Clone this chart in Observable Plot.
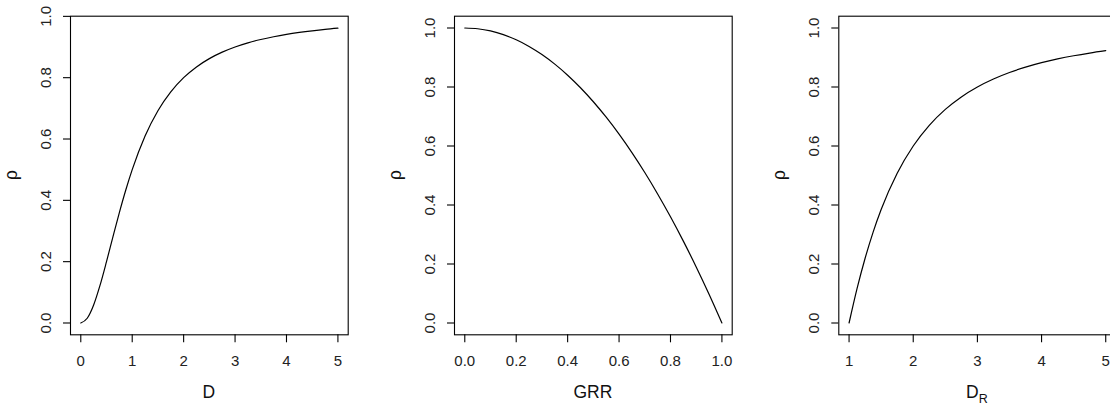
<!DOCTYPE html>
<html>
<head>
<meta charset="utf-8">
<script src="https://cdn.jsdelivr.net/npm/d3@7"></script>
<script src="https://cdn.jsdelivr.net/npm/@observablehq/plot@0.6"></script>
<style>
  html, body { margin: 0; padding: 0; background: #fff; }
  #wrap { position: relative; width: 1110px; height: 408px; overflow: hidden; font-family: "Liberation Sans", Arial, Helvetica, sans-serif; }
  .panel { position: absolute; top: 0; }
  .xlab { position: absolute; font-size: 17.5px; color: #111; transform: translate(-50%, -50%); white-space: nowrap; line-height: 1; }
  .ylab { position: absolute; font-size: 17.5px; color: #111; transform: translate(-50%, -50%) rotate(-90deg); white-space: nowrap; line-height: 1; }
  sub { font-size: 12.5px; vertical-align: -5px; line-height: 0; }
</style>
</head>
<body>
<div id="wrap"></div>
<script>
// Panel 1: rho vs D
const D = [0, 0.125, 0.25, 0.375, 0.5, 0.625, 0.75, 0.875, 1, 1.25, 1.5, 1.75, 2, 2.25, 2.5, 2.75, 3, 3.25, 3.5, 3.75, 4, 4.25, 4.5, 4.75, 5];
const rhoD = [0, 0.0154, 0.0588, 0.1233, 0.2, 0.2809, 0.36, 0.4336, 0.5, 0.6098, 0.6923, 0.7538, 0.8, 0.8351, 0.8621, 0.8832, 0.9, 0.9135, 0.9245, 0.9336, 0.9412, 0.9475, 0.9529, 0.9576, 0.9615];
// Panel 2: rho vs GRR
const GRR = [0, 0.05, 0.1, 0.15, 0.2, 0.25, 0.3, 0.35, 0.4, 0.45, 0.5, 0.55, 0.6, 0.65, 0.7, 0.75, 0.8, 0.85, 0.9, 0.95, 1];
const rhoGRR = [1, 0.9975, 0.99, 0.9775, 0.96, 0.9375, 0.91, 0.8775, 0.84, 0.7975, 0.75, 0.6975, 0.64, 0.5775, 0.51, 0.4375, 0.36, 0.2775, 0.19, 0.0975, 0];
// Panel 3: rho vs D_R
const DR = [1, 1.125, 1.25, 1.375, 1.5, 1.75, 2, 2.25, 2.5, 2.75, 3, 3.25, 3.5, 3.75, 4, 4.25, 4.5, 4.75, 5];
const rhoDR = [0, 0.1172, 0.2195, 0.3081, 0.3846, 0.5077, 0.6, 0.6701, 0.7241, 0.7664, 0.8, 0.8270, 0.8491, 0.8672, 0.8824, 0.8951, 0.9059, 0.9151, 0.9231];

// Tick labels
const xTicks1 = [0, 1, 2, 3, 4, 5];
const xTicks2 = [0, 0.2, 0.4, 0.6, 0.8, 1.0];
const xTicks3 = [1, 2, 3, 4, 5];
const yTicks = [0, 0.2, 0.4, 0.6, 0.8, 1.0];

const wrap = document.getElementById("wrap");
const font = "Liberation Sans, Arial, Helvetica, sans-serif";

function panel({left, width, mLeft, mRight, xs, ys, xDomain, yDomain, xTicks, xFmt, xLabelHTML}) {
  const data = xs.map((x, i) => ({x, y: ys[i]}));
  const mTop = 15.7, mBottom = 408 - 334.3;
  const p = Plot.plot({
    width, height: 408,
    marginLeft: mLeft, marginRight: mRight, marginTop: mTop, marginBottom: mBottom,
    style: {fontFamily: font, fontSize: "15px", color: "#000", background: "transparent", overflow: "visible"},
    x: {domain: xDomain},
    y: {domain: yDomain},
    marks: [
      Plot.frame({stroke: "#000", strokeWidth: 1.1}),
      Plot.line(data, {x: "x", y: "y", curve: "monotone-x", stroke: "#000", strokeWidth: 1.2}),
      Plot.axisX({ticks: xTicks, tickFormat: xFmt, tickSize: 8, tickPadding: 13, label: null, stroke: "#000", strokeWidth: 1.1, fill: "#222", fontSize: 15}),
      Plot.axisY({ticks: yTicks, tickFormat: d3.format(".1f"), tickSize: 7, tickPadding: 13, tickRotate: -90, label: null, stroke: "#000", strokeWidth: 1.1, fill: "#222", fontSize: 15})
    ]
  });
  p.classList.add("panel");
  p.style.left = left + "px";
  wrap.appendChild(p);
  const boxL = left + mLeft, boxR = left + width - mRight;
  const xl = document.createElement("div");
  xl.className = "xlab";
  xl.innerHTML = xLabelHTML;
  xl.style.left = ((boxL + boxR) / 2) + "px";
  xl.style.top = "393px";
  wrap.appendChild(xl);
  const yl = document.createElement("div");
  yl.className = "ylab";
  yl.textContent = "ρ";
  yl.style.left = (boxL - 58) + "px";
  yl.style.top = ((15.7 + 334.3) / 2) + "px";
  wrap.appendChild(yl);
}

panel({left: 0, width: 370, mLeft: 70, mRight: 22.3, xs: D, ys: rhoD,
  xDomain: [-0.2, 5.2], yDomain: [-0.0385, 1.0005], xTicks: xTicks1, xFmt: d3.format("d"), xLabelHTML: "D"});
panel({left: 370, width: 370, mLeft: 84, mRight: 8.3, xs: GRR, ys: rhoGRR,
  xDomain: [-0.04, 1.04], yDomain: [-0.04, 1.04], xTicks: xTicks2, xFmt: d3.format(".1f"), xLabelHTML: "GRR"});
panel({left: 740, width: 380, mLeft: 98.3, mRight: 4.5, xs: DR, ys: rhoDR,
  xDomain: [0.84, 5.16], yDomain: [-0.04, 1.04], xTicks: xTicks3, xFmt: d3.format("d"), xLabelHTML: "D<sub>R</sub>"});
</script>
</body>
</html>
